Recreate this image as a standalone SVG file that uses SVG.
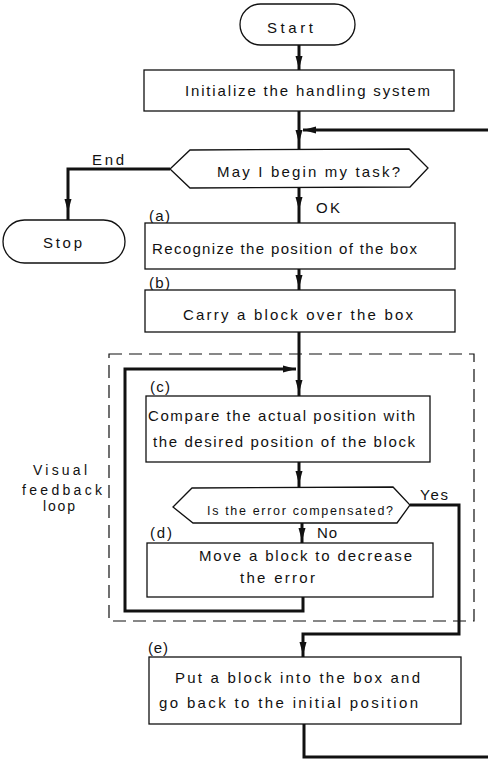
<svg xmlns="http://www.w3.org/2000/svg" xmlns:xlink="http://www.w3.org/1999/xlink" width="488" height="759" viewBox="0 0 488 759">
<style>
.box{fill:#fff;stroke:#111;stroke-width:1.3}
.flow{fill:none;stroke:#111;stroke-width:3;stroke-linejoin:miter}
.dash{fill:none;stroke:#111;stroke-width:1.2;stroke-dasharray:13 7}
.t{font-family:"Liberation Sans",Arial,sans-serif;font-size:15px;fill:#111}
.s{font-size:12.5px}
.lbl{font-size:14px}
.c{text-anchor:middle}
</style>
<defs>
<path id="ah" d="M0,0 L-3.5,-13 L3.5,-13 Z" fill="#111"/>
</defs>
<rect width="488" height="759" fill="#fff"/>
<rect class="dash" x="109" y="354" width="365" height="267"/>
<g id="connectors">
<path class="flow" d="M299,45 V70"/>
<path class="flow" d="M299,111 V150"/>
<path class="flow" d="M495,130 H303"/>
<path class="flow" d="M170,169 H68 V220"/>
<path class="flow" d="M299,188 V223"/>
<path class="flow" d="M299,269 V290"/>
<path class="flow" d="M299,332 V396"/>
<path class="flow" d="M303,597 V611 H125 V369 H296"/>
<path class="flow" d="M299,462 V488"/>
<path class="flow" d="M302,523 V543"/>
<path class="flow" d="M410,505 H459 V634 H303 V657"/>
<path class="flow" d="M304,724 V757 H495"/>
<use xlink:href="#ah" transform="translate(299,69)"/>
<use xlink:href="#ah" transform="translate(299,143)"/>
<use xlink:href="#ah" transform="translate(303,130) rotate(90)"/>
<use xlink:href="#ah" transform="translate(68,212)"/>
<use xlink:href="#ah" transform="translate(299,210)"/>
<use xlink:href="#ah" transform="translate(299,288)"/>
<use xlink:href="#ah" transform="translate(299,393)"/>
<use xlink:href="#ah" transform="translate(296,369) rotate(-90)"/>
<use xlink:href="#ah" transform="translate(299,484)"/>
<use xlink:href="#ah" transform="translate(302,541)"/>
<use xlink:href="#ah" transform="translate(303,655)"/>
<text class="t" x="92" y="165" textLength="32">End</text>
<text class="t" x="316" y="213" textLength="24">OK</text>
<text class="t" x="420" y="500" textLength="28">Yes</text>
<text class="t" x="317" y="538" textLength="20">No</text>
</g>
<g id="start">
<rect class="box" x="240" y="4" width="115" height="41" rx="20.5"/>
<text class="t" x="267" y="33" textLength="46">Start</text>
</g>
<g id="init">
<rect class="box" x="144" y="70" width="310" height="41"/>
<text class="t" x="185" y="96" textLength="245">Initialize the handling system</text>
</g>
<g id="begin">
<polygon class="box" points="170,169 190,150 409,149 428,168 410,187 190,188"/>
<text class="t" x="217" y="177" textLength="183">May I begin my task?</text>
</g>
<g id="stop">
<rect class="box" x="3" y="220" width="122" height="43" rx="21.5"/>
<text class="t" x="43" y="248" textLength="39">Stop</text>
</g>
<g id="recognize">
<text class="t" x="149" y="221" textLength="21">(a)</text>
<rect class="box" x="145" y="223" width="310" height="46"/>
<text class="t" x="152" y="254" textLength="265">Recognize the position of the box</text>
</g>
<g id="carry">
<text class="t" x="149" y="288" textLength="21">(b)</text>
<rect class="box" x="145" y="290" width="310" height="42"/>
<text class="t" x="183" y="320" textLength="230">Carry a block over the box</text>
</g>
<g id="loop-label">
<text class="t lbl c" x="60" y="475" textLength="54">Visual</text>
<text class="t lbl c" x="62" y="495" textLength="80">feedback</text>
<text class="t lbl c" x="59" y="511" textLength="32">loop</text>
</g>
<g id="compare">
<text class="t" x="150" y="392" textLength="20">(c)</text>
<rect class="box" x="146" y="396" width="284" height="66"/>
<text class="t" x="148" y="421" textLength="267">Compare the actual position with</text>
<text class="t" x="153" y="447" textLength="262">the desired position of the block</text>
</g>
<g id="compensated">
<polygon class="box" points="173,507 192,488 393,487 410,505 397,523 193,523"/>
<text class="t s" x="207" y="515" textLength="186">Is the error compensated?</text>
</g>
<g id="move">
<text class="t" x="150" y="538" textLength="22">(d)</text>
<rect class="box" x="147" y="543" width="286" height="54"/>
<text class="t" x="199" y="561" textLength="213">Move a block to decrease</text>
<text class="t" x="240" y="583" textLength="75">the error</text>
</g>
<g id="put">
<text class="t" x="148" y="653" textLength="20">(e)</text>
<rect class="box" x="149" y="657" width="312" height="67"/>
<text class="t" x="175" y="683" textLength="245">Put a block into the box and</text>
<text class="t" x="159" y="708" textLength="259">go back to the initial position</text>
</g>
</svg>
